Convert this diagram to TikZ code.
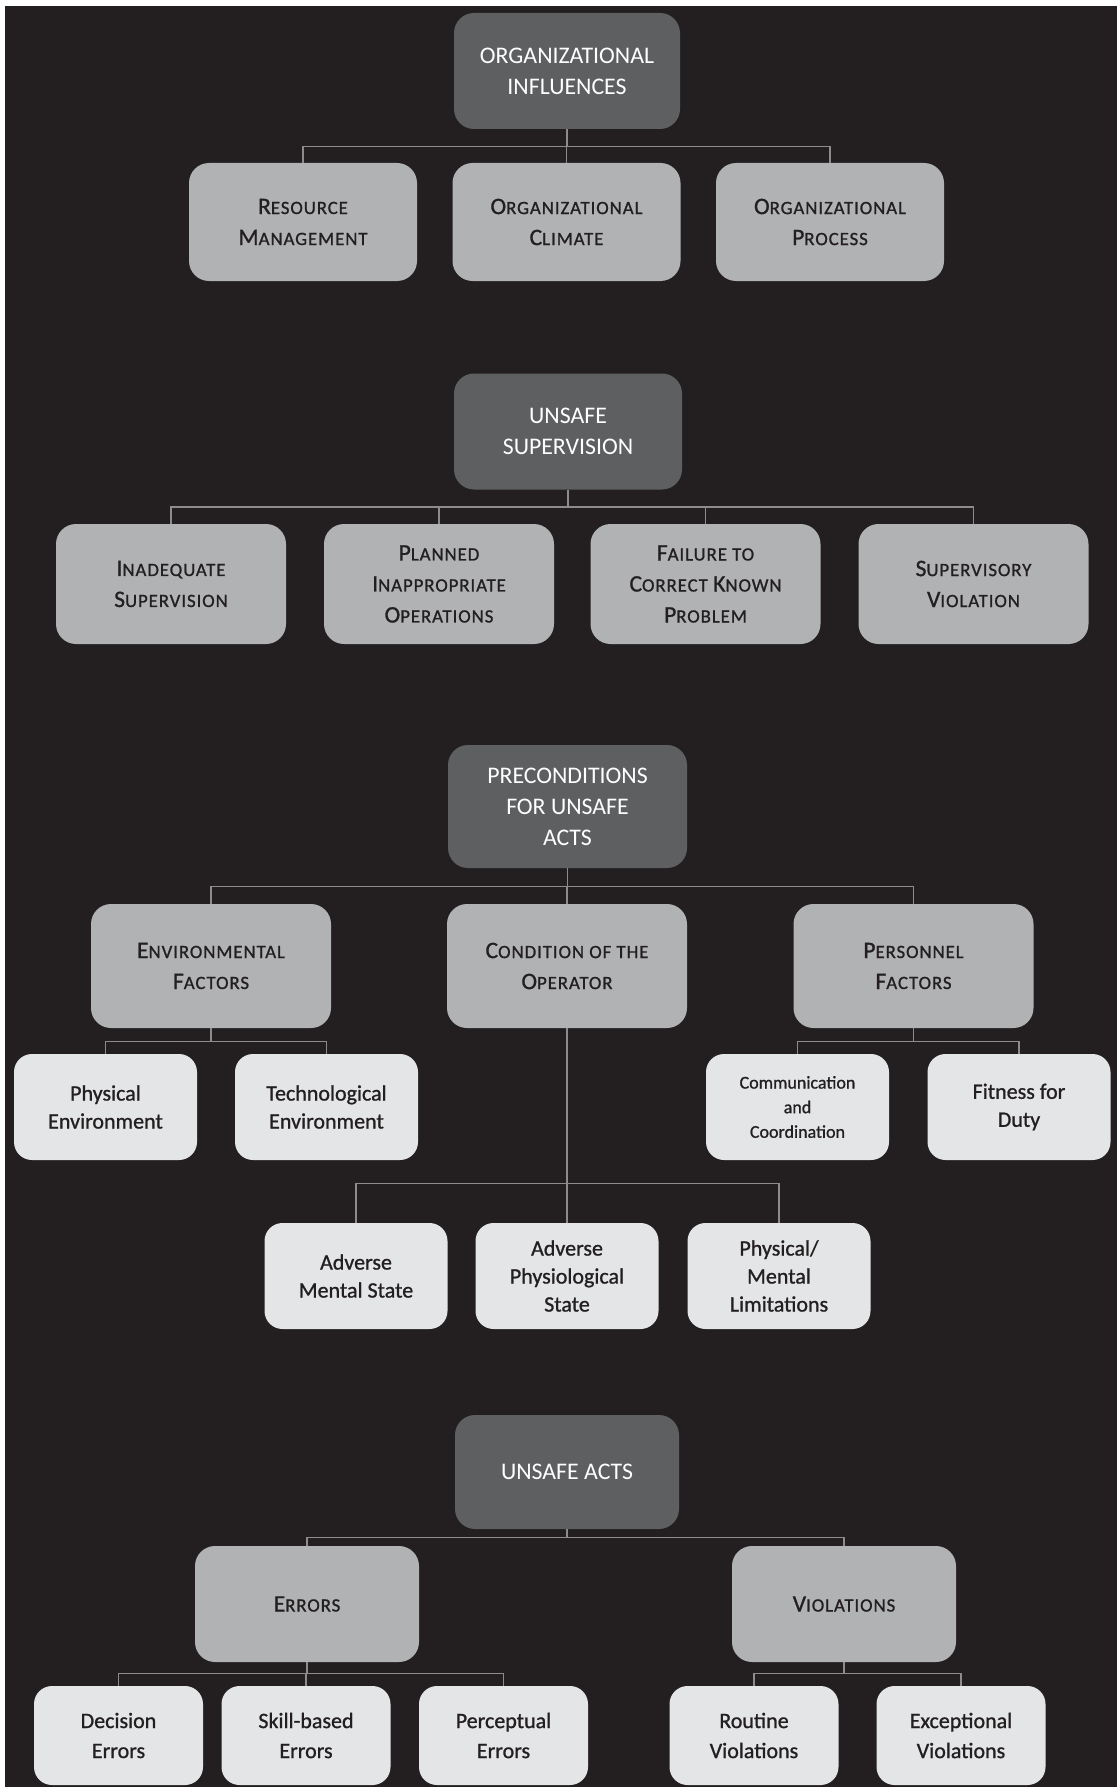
\documentclass[tikz,border=0pt]{standalone}
\usepackage{fontspec}
\setmainfont{Carlito}
\newfontfamily\inkfont[FakeBold=1]{Carlito}
\newfontfamily\capfont[LetterSpace=5,FakeBold=1]{Carlito}
\usepackage{xcolor}
\definecolor{backdrop}{RGB}{35,31,32}
\definecolor{rootgray}{RGB}{94,95,97}
\definecolor{catgray}{RGB}{177,178,180}
\definecolor{leafgray}{RGB}{228,229,231}
\definecolor{linkgray}{RGB}{140,140,140}
\definecolor{inkdark}{RGB}{35,31,32}
% faked small capitals for the category boxes
\newcommand{\lowcap}[1]{{\capfont\fontsize{9.4}{15.5}\selectfont #1}}

\tikzset{
  rootbox/.style={fill=rootgray, text=white, rounded corners=10pt,
    align=center, inner sep=0pt, minimum width=113pt, minimum height=58pt,
    font=\fontsize{11.9}{15.5}\selectfont},
  catbox/.style={fill=catgray, text=inkdark, rounded corners=10pt,
    align=center, inner sep=0pt, minimum width=114pt, minimum height=59pt,
    font=\inkfont\fontsize{11.8}{15.5}\selectfont},
  leafbox/.style={fill=leafgray, text=inkdark, rounded corners=9pt,
    align=center, inner sep=0pt, minimum width=91.5pt, minimum height=53pt,
    font=\inkfont\fontsize{11}{14}\selectfont},
  link/.style={draw=linkgray, line width=0.8pt}
}

\begin{document}
\begin{tikzpicture}[x=0.5pt,y=-0.5pt]
  % page and dark backdrop
  \fill[white] (0,0) rectangle (1117,1787);
  \fill[backdrop] (5,6) rectangle (1117,1787);

  % organizational influences
  \node[rootbox] (oi) at (567,71) {ORGANIZATIONAL\\INFLUENCES};
  \node[catbox] (rm) at (303,222) {R\lowcap{ESOURCE}\\M\lowcap{ANAGEMENT}};
  \node[catbox] (oc) at (566.5,222) {O\lowcap{RGANIZATIONAL}\\C\lowcap{LIMATE}};
  \node[catbox] (op) at (830,222) {O\lowcap{RGANIZATIONAL}\\P\lowcap{ROCESS}};
  \foreach \c in {rm,oc,op}
    \draw[link] (oi.south) -- ++(0,17) -| (\c.north);

  % unsafe supervision
  \node[rootbox, minimum width=114pt] (us) at (568,431.5) {UNSAFE\\SUPERVISION};
  \node[catbox, minimum width=115pt, minimum height=60pt] (is) at (171,584)
    {I\lowcap{NADEQUATE}\\S\lowcap{UPERVISION}};
  \node[catbox, minimum width=115pt, minimum height=60pt] (pio) at (439,584)
    {P\lowcap{LANNED}\\I\lowcap{NAPPROPRIATE}\\O\lowcap{PERATIONS}};
  \node[catbox, minimum width=115pt, minimum height=60pt] (fck) at (705.5,584)
    {F\lowcap{AILURE TO}\\C\lowcap{ORRECT} K\lowcap{NOWN}\\P\lowcap{ROBLEM}};
  \node[catbox, minimum width=115pt, minimum height=60pt] (sv) at (973.5,584)
    {S\lowcap{UPERVISORY}\\V\lowcap{IOLATION}};
  \foreach \c in {is,pio,fck,sv}
    \draw[link] (us.south) -- ++(0,17) -| (\c.north);

  % preconditions for unsafe acts
  \node[rootbox, minimum width=119.5pt, minimum height=61.5pt] (pc) at (567.5,806.5)
    {PRECONDITIONS\\FOR UNSAFE\\ACTS};
  \node[catbox, minimum width=120pt, minimum height=62pt] (ef) at (211,966)
    {E\lowcap{NVIRONMENTAL}\\F\lowcap{ACTORS}};
  \node[catbox, minimum width=120pt, minimum height=62pt] (co) at (567,966)
    {C\lowcap{ONDITION OF THE}\\O\lowcap{PERATOR}};
  \node[catbox, minimum width=120pt, minimum height=62pt] (pf) at (913.5,966)
    {P\lowcap{ERSONNEL}\\F\lowcap{ACTORS}};
  \foreach \c in {ef,co,pf}
    \draw[link] (pc.south) -- ++(0,18) -| (\c.north);

  \node[leafbox] (pe) at (105.5,1107) {Physical\\Environment};
  \node[leafbox] (te) at (326.5,1107) {Technological\\Environment};
  \foreach \c in {pe,te}
    \draw[link] (ef.south) -- ++(0,13) -| (\c.north);

  \node[leafbox, font=\inkfont\fontsize{9}{12.3}\selectfont] (cc) at (797.5,1107)
    {Communication\\and\\Coordination};
  \node[leafbox] (fd) at (1019,1107) {Fitness for\\Duty};
  \foreach \c in {cc,fd}
    \draw[link] (pf.south) -- ++(0,13) -| (\c.north);

  \node[leafbox] (ams) at (356,1276) {Adverse\\Mental State};
  \node[leafbox] (aps) at (567,1276) {Adverse\\Physiological\\State};
  \node[leafbox] (pml) at (779,1276) {Physical/\\Mental\\Limitations};
  \foreach \c in {ams,aps,pml}
    \draw[link] (co.south) -- ++(0,155) -| (\c.north);

  % unsafe acts
  \node[rootbox, minimum width=112pt, minimum height=57pt] (ua) at (567,1472) {UNSAFE ACTS};
  \node[catbox, minimum width=112pt, minimum height=58pt] (er) at (307,1604) {E\lowcap{RRORS}};
  \node[catbox, minimum width=112pt, minimum height=58pt] (vi) at (844,1604) {V\lowcap{IOLATIONS}};
  \foreach \c in {er,vi}
    \draw[link] (ua.south) -- ++(0,8) -| (\c.north);

  \node[leafbox, minimum width=84.5pt, minimum height=49.5pt, font=\inkfont\fontsize{11}{15}\selectfont] (de) at (118.5,1735.5) {Decision\\Errors};
  \node[leafbox, minimum width=84.5pt, minimum height=49.5pt, font=\inkfont\fontsize{11}{15}\selectfont] (sb) at (306,1735.5) {Skill-based\\Errors};
  \node[leafbox, minimum width=84.5pt, minimum height=49.5pt, font=\inkfont\fontsize{11}{15}\selectfont] (pce) at (503.5,1735.5) {Perceptual\\Errors};
  \foreach \c in {de,sb,pce}
    \draw[link] (er.south) -- ++(0,11) -| (\c.north);

  \node[leafbox, minimum width=84.5pt, minimum height=49.5pt, font=\inkfont\fontsize{11}{15}\selectfont] (rv) at (754,1735.5) {Routine\\Violations};
  \node[leafbox, minimum width=84.5pt, minimum height=49.5pt, font=\inkfont\fontsize{11}{15}\selectfont] (xv) at (961,1735.5) {Exceptional\\Violations};
  \foreach \c in {rv,xv}
    \draw[link] (vi.south) -- ++(0,11) -| (\c.north);
\end{tikzpicture}
\end{document}
